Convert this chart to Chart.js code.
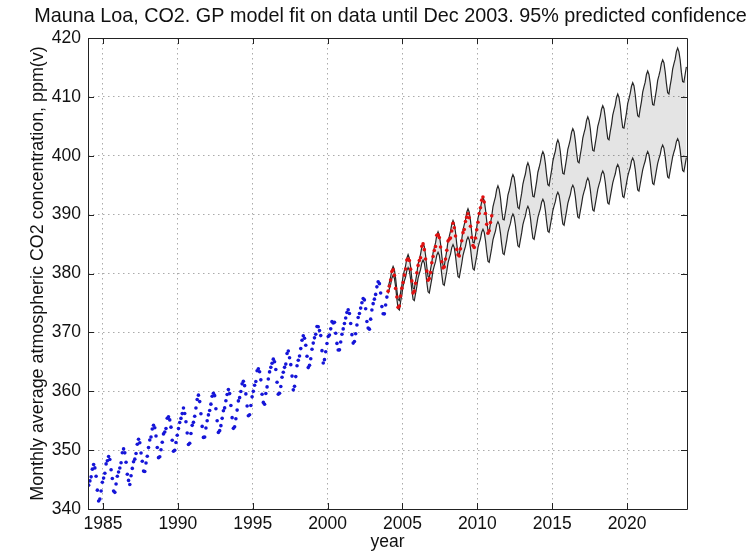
<!DOCTYPE html>
<html>
<head>
<meta charset="utf-8">
<script src="https://cdn.jsdelivr.net/npm/chart.js@4.4.1/dist/chart.umd.min.js"></script>
<style>
  html, body { margin: 0; padding: 0; background: #fff; }
  canvas { display: block; }
</style>
</head>
<body>
<canvas id="co2" width="751" height="553"></canvas>
<script>
// Labels
const titleText = 'Mauna Loa, CO2. GP model fit on data until Dec 2003. 95% predicted confidence';
const xTitle = 'year';
const yTitle = 'Monthly average atmospheric CO2 concentration, ppm(v)';
const xTicks = [1985, 1990, 1995, 2000, 2005, 2010, 2015, 2020];
const yTicks = [340, 350, 360, 370, 380, 390, 400, 410, 420];

// Monthly means used for fitting: Jan 1984 .. Dec 2003
const trainStart = 1984;
const trainCO2 = [
  344.05, 344.77, 345.46, 346.77, 347.55, 346.98, 345.55, 343.20, 341.35, 341.68, 343.06, 344.54,
  345.25, 346.06, 347.66, 348.20, 348.92, 348.40, 346.66, 345.17, 343.04, 342.83, 344.24, 345.56,
  346.29, 346.96, 347.86, 349.55, 350.21, 349.54, 347.94, 345.91, 344.86, 344.17, 345.66, 346.90,
  348.02, 348.47, 349.42, 350.99, 351.84, 351.25, 349.52, 348.10, 346.44, 346.36, 347.81, 348.96,
  350.43, 351.72, 352.22, 353.59, 354.22, 353.79, 352.39, 350.44, 348.72, 348.88, 350.07, 351.34,
  352.76, 353.07, 353.68, 355.42, 355.67, 355.13, 353.90, 351.67, 349.80, 349.99, 351.30, 352.53,
  353.66, 354.70, 355.39, 356.20, 357.16, 356.22, 354.82, 352.91, 350.96, 351.18, 352.83, 354.21,
  354.72, 355.75, 357.16, 358.60, 359.34, 358.24, 356.17, 354.03, 352.16, 352.21, 353.75, 354.99,
  355.98, 356.72, 357.81, 359.15, 359.66, 359.25, 357.02, 355.00, 353.01, 353.31, 354.16, 355.40,
  356.70, 357.17, 358.38, 359.46, 360.28, 359.60, 357.57, 355.52, 353.70, 353.98, 355.33, 356.80,
  358.36, 358.91, 359.97, 361.26, 361.68, 360.95, 359.55, 357.49, 355.84, 356.00, 357.59, 359.05,
  359.98, 361.03, 361.66, 363.48, 363.82, 363.30, 361.94, 359.50, 358.11, 357.80, 359.61, 360.74,
  362.09, 363.29, 364.06, 364.76, 365.45, 365.01, 363.70, 361.54, 359.51, 359.65, 360.80, 362.38,
  363.23, 364.06, 364.61, 366.40, 366.84, 365.68, 364.52, 362.57, 360.24, 360.83, 362.49, 364.34,
  365.27, 365.98, 367.24, 368.66, 369.42, 368.99, 367.82, 365.95, 364.02, 364.40, 365.52, 367.13,
  368.18, 369.07, 369.68, 370.99, 370.96, 370.30, 369.45, 366.90, 364.81, 365.37, 366.72, 368.10,
  369.29, 369.54, 370.60, 371.82, 371.58, 371.70, 369.86, 368.13, 367.00, 367.03, 368.37, 369.67,
  370.59, 371.51, 372.43, 373.37, 373.85, 373.21, 371.51, 369.61, 368.18, 368.45, 369.76, 371.24,
  372.53, 373.20, 374.12, 375.02, 375.76, 375.52, 374.01, 371.85, 370.75, 370.55, 372.25, 373.79,
  374.88, 375.64, 376.45, 377.73, 378.60, 378.28, 376.70, 374.38, 373.17, 373.15, 374.66, 375.99
];

// Later monthly means: Jan 2004 .. Dec 2010
const testStart = 2004;
const testCO2 = [
  377.00, 377.87, 378.88, 380.35, 380.62, 379.69, 377.47, 376.01, 374.25, 374.46, 376.16, 377.51,
  378.46, 379.73, 380.77, 382.29, 382.45, 382.21, 380.74, 378.74, 376.70, 377.00, 378.35, 380.11,
  381.38, 382.19, 382.67, 384.61, 385.03, 384.05, 382.46, 380.41, 378.85, 379.13, 380.15, 381.82,
  382.89, 383.90, 384.58, 386.50, 386.56, 386.10, 384.50, 381.99, 380.96, 381.12, 382.45, 383.95,
  385.52, 385.82, 386.03, 387.21, 388.54, 387.76, 386.36, 384.09, 383.18, 382.99, 384.19, 385.56,
  386.94, 387.48, 388.82, 389.55, 390.14, 389.48, 388.03, 386.11, 384.74, 384.43, 386.02, 387.42,
  388.71, 390.20, 391.17, 392.46, 393.00, 392.15, 390.20, 388.35, 386.85, 387.24, 388.67, 389.79
];

// 95% predictive interval, Jan 2004 .. Dec 2023
const predStart = 2004;
const predUpper = [
  377.7, 378.5, 379.4, 380.6, 381.2, 380.7, 379.2, 377.2, 375.6, 375.4, 376.8, 378.0,
  379.6, 380.5, 381.3, 382.6, 383.2, 382.6, 381.2, 379.1, 377.5, 377.4, 378.7, 380.0,
  381.6, 382.4, 383.3, 384.5, 385.1, 384.6, 383.1, 381.1, 379.5, 379.3, 380.7, 381.9,
  383.5, 384.4, 385.2, 386.5, 387.1, 386.5, 385.1, 383.0, 381.4, 381.3, 382.6, 383.9,
  385.5, 386.3, 387.2, 388.4, 389.0, 388.5, 387.0, 385.0, 383.4, 383.2, 384.6, 385.8,
  387.4, 388.3, 389.1, 390.4, 391.0, 390.4, 389.0, 386.9, 385.3, 385.2, 386.5, 387.8,
  389.4, 390.2, 391.1, 392.3, 392.9, 392.4, 390.9, 388.9, 387.3, 387.1, 388.5, 389.7,
  391.3, 392.2, 393.0, 394.3, 394.9, 394.3, 392.9, 390.8, 389.2, 389.1, 390.4, 391.7,
  393.3, 394.1, 395.0, 396.2, 396.8, 396.3, 394.8, 392.8, 391.2, 391.0, 392.4, 393.6,
  395.2, 396.1, 396.9, 398.2, 398.8, 398.2, 396.8, 394.7, 393.1, 393.0, 394.3, 395.6,
  397.2, 398.0, 398.9, 400.1, 400.7, 400.2, 398.7, 396.7, 395.1, 394.9, 396.3, 397.5,
  399.1, 400.0, 400.8, 402.1, 402.7, 402.1, 400.7, 398.6, 397.0, 396.9, 398.2, 399.5,
  401.1, 401.9, 402.8, 404.0, 404.6, 404.1, 402.6, 400.6, 399.0, 398.8, 400.2, 401.4,
  403.0, 403.9, 404.7, 406.0, 406.6, 406.0, 404.6, 402.5, 400.9, 400.8, 402.1, 403.4,
  405.0, 405.8, 406.7, 407.9, 408.5, 408.0, 406.5, 404.5, 402.9, 402.7, 404.1, 405.3,
  406.9, 407.8, 408.6, 409.9, 410.5, 409.9, 408.5, 406.4, 404.8, 404.7, 406.0, 407.3,
  408.9, 409.7, 410.6, 411.8, 412.4, 411.9, 410.4, 408.4, 406.8, 406.6, 408.0, 409.2,
  410.8, 411.7, 412.5, 413.8, 414.4, 413.8, 412.4, 410.3, 408.7, 408.6, 409.9, 411.2,
  412.8, 413.6, 414.5, 415.7, 416.3, 415.8, 414.3, 412.3, 410.7, 410.5, 411.9, 413.1,
  414.7, 415.6, 416.4, 417.7, 418.3, 417.7, 416.3, 414.2, 412.6, 412.5, 413.8, 415.1
];
const predLower = [
  376.6, 377.4, 378.1, 379.2, 379.7, 379.2, 377.8, 375.7, 374.0, 373.8, 375.2, 376.4,
  377.9, 378.7, 379.4, 380.5, 381.0, 380.5, 379.1, 377.2, 375.6, 375.4, 376.6, 377.8,
  379.2, 380.0, 380.7, 381.8, 382.3, 381.8, 380.4, 378.5, 376.9, 376.7, 377.9, 379.1,
  380.5, 381.3, 382.0, 383.1, 383.6, 383.1, 381.7, 379.8, 378.2, 378.0, 379.2, 380.4,
  381.8, 382.6, 383.3, 384.4, 384.9, 384.4, 383.0, 381.1, 379.5, 379.3, 380.5, 381.7,
  383.1, 383.9, 384.6, 385.7, 386.2, 385.7, 384.3, 382.4, 380.8, 380.6, 381.8, 383.0,
  384.4, 385.2, 385.9, 387.0, 387.5, 387.0, 385.6, 383.7, 382.1, 381.9, 383.1, 384.3,
  385.7, 386.5, 387.2, 388.3, 388.8, 388.3, 386.9, 385.0, 383.4, 383.2, 384.4, 385.6,
  387.0, 387.8, 388.5, 389.6, 390.1, 389.6, 388.2, 386.3, 384.7, 384.5, 385.7, 386.9,
  388.3, 389.1, 389.8, 390.9, 391.4, 390.9, 389.5, 387.6, 386.0, 385.8, 387.0, 388.2,
  389.5, 390.3, 391.0, 392.1, 392.6, 392.1, 390.7, 388.8, 387.2, 387.0, 388.2, 389.4,
  390.7, 391.5, 392.2, 393.3, 393.8, 393.3, 391.9, 390.0, 388.4, 388.2, 389.4, 390.6,
  391.9, 392.7, 393.4, 394.5, 395.0, 394.5, 393.1, 391.2, 389.6, 389.4, 390.6, 391.8,
  393.1, 393.9, 394.6, 395.7, 396.2, 395.7, 394.3, 392.4, 390.8, 390.6, 391.8, 393.0,
  394.3, 395.1, 395.8, 396.9, 397.4, 396.9, 395.5, 393.6, 392.0, 391.8, 393.0, 394.2,
  395.4, 396.2, 396.9, 398.0, 398.5, 398.0, 396.6, 394.7, 393.1, 392.9, 394.1, 395.3,
  396.5, 397.3, 398.0, 399.1, 399.6, 399.1, 397.7, 395.8, 394.2, 394.0, 395.2, 396.4,
  397.6, 398.4, 399.1, 400.2, 400.7, 400.2, 398.8, 396.9, 395.3, 395.1, 396.3, 397.5,
  398.7, 399.5, 400.2, 401.3, 401.8, 401.3, 399.9, 398.0, 396.4, 396.2, 397.4, 398.6,
  399.8, 400.6, 401.3, 402.4, 402.9, 402.4, 401.0, 399.1, 397.5, 397.3, 398.5, 399.7
];

// month i of a series starting in January of `startYear` sits at the middle of that month
function monthlyPoints(startYear, values) {
  return values.map((v, i) => ({ x: startYear + (i + 0.5) / 12, y: v }));
}

const FONT = 'Liberation Sans, Arial, Helvetica, sans-serif';
const TEXT = '#111';

// Matlab-style frame: full box, inward tick marks on all four sides, title over the axes
const framePlugin = {
  id: 'frame',
  afterDraw(chart) {
    const { ctx, chartArea: a, scales: { x, y } } = chart;
    const len = 6;
    ctx.save();
    ctx.strokeStyle = '#222';
    ctx.lineWidth = 1;
    ctx.beginPath();
    ctx.rect(Math.round(a.left) + 0.5, Math.round(a.top) + 0.5,
             Math.round(a.right - a.left), Math.round(a.bottom - a.top));
    for (const t of xTicks) {
      const px = Math.round(x.getPixelForValue(t)) + 0.5;
      ctx.moveTo(px, a.bottom); ctx.lineTo(px, a.bottom - len);
      ctx.moveTo(px, a.top); ctx.lineTo(px, a.top + len);
    }
    for (const t of yTicks) {
      const py = Math.round(y.getPixelForValue(t)) + 0.5;
      ctx.moveTo(a.left, py); ctx.lineTo(a.left + len, py);
      ctx.moveTo(a.right, py); ctx.lineTo(a.right - len, py);
    }
    ctx.stroke();
    ctx.fillStyle = TEXT;
    ctx.font = '19.8px ' + FONT;
    ctx.textAlign = 'center';
    ctx.textBaseline = 'middle';
    ctx.fillText(titleText, (a.left + a.right) / 2 + 3, 17);
    ctx.restore();
  }
};

const gridStyle = { color: '#ababab', lineWidth: 1, drawTicks: false };

new Chart(document.getElementById('co2'), {
  type: 'line',
  data: {
    datasets: [
      {
        label: 'after Dec 2003',
        data: monthlyPoints(testStart, testCO2),
        showLine: false,
        pointRadius: 1.8,
        pointBackgroundColor: '#e01010',
        pointBorderWidth: 0
      },
      {
        label: 'fitted data',
        data: monthlyPoints(trainStart, trainCO2),
        showLine: false,
        pointRadius: 1.8,
        pointBackgroundColor: '#1515d8',
        pointBorderWidth: 0
      },
      {
        label: 'upper 95%',
        data: monthlyPoints(predStart, predUpper),
        borderColor: '#262626',
        borderWidth: 1.2,
        pointRadius: 0,
        fill: '+1',
        backgroundColor: 'rgba(0,0,0,0.105)'
      },
      {
        label: 'lower 95%',
        data: monthlyPoints(predStart, predLower),
        borderColor: '#262626',
        borderWidth: 1.2,
        pointRadius: 0,
        fill: false
      }
    ]
  },
  options: {
    responsive: false,
    animation: false,
    devicePixelRatio: 1,
    layout: { padding: { left: 0, right: 64, top: 38, bottom: 0 } },
    plugins: {
      legend: { display: false },
      tooltip: { enabled: false },
      filler: { drawTime: 'beforeDatasetsDraw' }
    },
    scales: {
      x: {
        type: 'linear',
        min: 1984,
        max: 2024,
        afterBuildTicks: s => { s.ticks = xTicks.map(v => ({ value: v })); },
        afterFit: s => { s.height = 44; },
        grid: gridStyle,
        border: { display: false, dash: [1.5, 3.5] },
        ticks: {
          padding: 5,
          maxRotation: 0,
          autoSkip: false,
          color: TEXT,
          font: { family: FONT, size: 17.5 },
          callback: v => String(v)
        },
        title: {
          display: true,
          text: xTitle,
          color: TEXT,
          font: { family: FONT, size: 17.5 },
          padding: { top: 0, bottom: 0 }
        }
      },
      y: {
        type: 'linear',
        min: 340,
        max: 420,
        afterBuildTicks: s => { s.ticks = yTicks.map(v => ({ value: v })); },
        afterFit: s => { s.width = 88; },
        grid: gridStyle,
        border: { display: false, dash: [1.5, 3.5] },
        ticks: {
          padding: 7,
          color: TEXT,
          font: { family: FONT, size: 17.5 },
          callback: v => String(v)
        },
        title: {
          display: true,
          text: yTitle,
          color: TEXT,
          font: { family: FONT, size: 17.9 },
          padding: { top: 27, bottom: 0 }
        }
      }
    }
  },
  plugins: [framePlugin]
});
</script>
</body>
</html>
